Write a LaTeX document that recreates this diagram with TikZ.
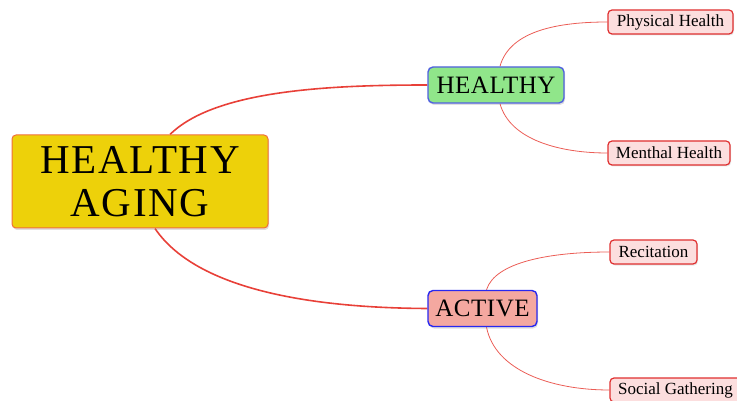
\documentclass[tikz,border=0pt]{standalone}
\usepackage{fontspec}
\setmainfont{Liberation Serif}
\usepackage{tikz}
\usetikzlibrary{shadows,backgrounds}

\definecolor{rootfill}{RGB}{237,209,10}
\definecolor{rootline}{RGB}{240,110,60}
\definecolor{healthyfill}{RGB}{144,230,138}
\definecolor{healthyline}{RGB}{80,96,224}
\definecolor{activefill}{RGB}{244,168,160}
\definecolor{activeline}{RGB}{40,40,240}
\definecolor{leaffill}{RGB}{252,222,222}
\definecolor{leafline}{RGB}{224,48,48}
\definecolor{branch}{RGB}{232,64,56}

\begin{document}
\begin{tikzpicture}[
			x=1pt,y=-1pt,
			root/.style={rectangle,rounded corners=4pt,draw=rootline,line width=1pt,
				fill=rootfill,drop shadow={opacity=0.25,shadow xshift=1pt,shadow yshift=-2pt},
				minimum width=256pt,minimum height=93pt,align=center,
				font=\fontsize{41}{43}\selectfont\addfontfeatures{LetterSpace=4}},
			topic/.style={rectangle,rounded corners=5pt,line width=1.4pt,
				drop shadow={opacity=0.25,shadow xshift=1pt,shadow yshift=-2pt},
				minimum height=36pt,inner xsep=6pt,
				font=\fontsize{25}{28}\selectfont\addfontfeatures{LetterSpace=2}},
			leaf/.style={rectangle,rounded corners=4pt,draw=leafline,line width=1.2pt,
				fill=leaffill,drop shadow={opacity=0.2,shadow xshift=1pt,shadow yshift=-1.5pt},
				minimum height=24pt,inner xsep=5pt,font=\fontsize{17}{19}\selectfont},
			trunk/.style={draw=branch,line width=1.6pt},
			twig/.style={draw=branch!85,line width=0.8pt}]
			\useasboundingbox (0,0) rectangle (737,401);
			% central idea
			\node[root] (aging) at (140,181.5) {HEALTHY\\AGING};
			\node[topic,draw=healthyline,fill=healthyfill,minimum width=136pt] (healthy) at (496,85) {HEALTHY};
			\node[topic,draw=activeline,fill=activefill,minimum width=109pt] (active) at (482.5,308.5) {ACTIVE};
			% leaves
			\node[leaf,minimum width=125pt] (physical) at (670.5,22) {Physical Health};
			\node[leaf,minimum width=122pt] (menthal) at (669,153) {Menthal Health};
			\node[leaf,minimum width=87pt] (recite) at (653.5,252) {Recitation};
			\node[leaf,minimum width=131pt] (social) at (675.5,390) {Social Gathering};
			% branches
			\begin{scope}[on background layer]
			\draw[trunk] ([xshift=30pt]aging.north) .. controls (215,90) and (330,85) .. (healthy.west);
			\draw[trunk] ([xshift=15pt]aging.south) .. controls (200,295) and (330,308) .. (active.west);
			\draw[twig] ([xshift=4pt]healthy.north) .. controls (510,30) and (560,22) .. (physical.west);
			\draw[twig] ([xshift=4pt]healthy.south) .. controls (510,140) and (560,153) .. (menthal.west);
			\draw[twig] ([xshift=4pt]active.north) .. controls (495,262) and (550,252) .. (recite.west);
			\draw[twig] ([xshift=4pt]active.south) .. controls (495,370) and (550,390) .. (social.west);
			\end{scope}
		\end{tikzpicture}
\end{document}
